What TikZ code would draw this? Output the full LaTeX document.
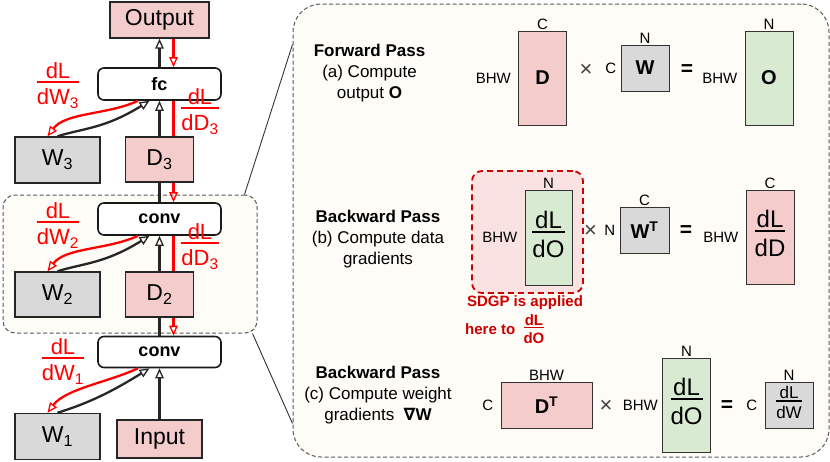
\documentclass[tikz,border=0pt]{standalone}
\usepackage{fontspec}
\setmainfont{Liberation Sans}
\newfontfamily\symfont{DejaVu Sans}
\usepackage{xcolor}
\usetikzlibrary{positioning, arrows.meta, calc}

\definecolor{datapink}{HTML}{F4CCCC}
\definecolor{wgray}{HTML}{D9D9D9}
\definecolor{outgreen}{HTML}{D9EAD3}
\definecolor{panelbg}{HTML}{FEFCF6}
\definecolor{gradred}{HTML}{FF0000}
\definecolor{sdgpred}{HTML}{CC0000}
\definecolor{sdgpbg}{HTML}{FAE2E2}

% stacked fraction: numerator over a rule over denominator
\newcommand{\gfrac}[2]{{\renewcommand{\arraystretch}{0.85}\setlength{\arrayrulewidth}{0.07em}%
  \begin{tabular}{@{}c@{}}#1\\[-0.18em]\hline\rule{0pt}{1.02em}#2\end{tabular}}}

\tikzset{
  region/.style={draw=black!65, dash pattern=on 4pt off 2.5pt, line width=1pt, fill=panelbg, inner sep=0pt},
  databox/.style={draw=black!85, line width=1.4pt, fill=datapink, inner sep=0pt,
    minimum width=68pt, minimum height=45pt, font=\fontsize{23}{27}\selectfont},
  wbox/.style={databox, fill=wgray, minimum width=85pt, minimum height=46pt},
  layer/.style={draw=black!90, line width=1.6pt, rounded corners=6pt, fill=white, inner sep=0pt,
    minimum width=123pt, minimum height=32pt, font=\fontsize{18}{21}\selectfont\bfseries},
  fwd/.style={black!85, line width=2.3pt, -{Triangle[open, length=10pt, width=8.5pt, line width=1.3pt]}},
  fwdline/.style={black!85, line width=2.3pt},
  bwd/.style={gradred, line width=2.3pt, -{Triangle[open, length=10pt, width=8.5pt, line width=1.3pt]}},
  grad/.style={gradred, line width=2.3pt},
  glabel/.style={text=gradred, font=\fontsize{22}{26}\selectfont, inner sep=0pt},
  passtxt/.style={align=center, font=\fontsize{17}{21}\selectfont, inner sep=0pt},
  mat/.style={draw=black!80, line width=1pt, inner sep=0pt, minimum width=48pt},
  matlbl/.style={font=\fontsize{20}{24}\selectfont\bfseries},
  matfrac/.style={font=\fontsize{24}{28}\selectfont},
  dim/.style={font=\fontsize{15}{18}\selectfont, inner sep=1pt},
  op/.style={font=\fontsize{22}{24}\selectfont, text=black!75, inner sep=0pt},
  eq/.style={font=\fontsize{21}{24}\selectfont\bfseries, inner sep=0pt}
}

\begin{document}
\begin{tikzpicture}[x=1pt, y=-1pt]
    \useasboundingbox (0,0) rectangle (830,461);

    % --- zoomed layer and detail panel ---
    \node[region, rounded corners=12pt, minimum width=254pt, minimum height=138pt] (blk) at (130,264) {};
    \node[region, rounded corners=28pt, minimum width=536pt, minimum height=453pt] (panel) at (561,230.5) {};
    \draw[black!80, line width=0.9pt] ([xshift=-13pt]blk.north east) -- ([yshift=-41pt]panel.north west);
    \draw[black!80, line width=0.9pt] ([xshift=-5pt]blk.south east) -- ([yshift=34pt]panel.south west);

    % --- Network stack ---
    \node[databox, minimum width=99pt, minimum height=36pt] (out) at (159.5,20) {Output};
    \node[layer] (fc) at (159.5,84) {fc};
    \node[wbox] (w3) at (57.5,160) {W\textsubscript{3}};
    \node[databox] (d3) at (159.5,159.5) {D\textsubscript{3}};
    \node[layer] (convb) at (159.5,219) {conv};
    \node[wbox, minimum height=45pt] (w2) at (57.5,294.5) {W\textsubscript{2}};
    \node[databox] (d2) at (159.5,294.5) {D\textsubscript{2}};
    \node[layer, minimum height=31pt] (conva) at (159.5,352) {conv};
    \node[wbox] (w1) at (57.5,436.5) {W\textsubscript{1}};
    \node[databox, minimum width=85pt, minimum height=38pt] (inp) at (159.5,439) {Input};

    \draw[fwd] (fc.north) -- (fc.north |- out.south);
    \draw[bwd] ([xshift=14pt]out.south) -- ([xshift=14pt]out.south |- fc.north);
    \foreach \up/\dat/\dn in {fc/d3/convb, convb/d2/conva} {
        \draw[fwd] (\dat.north) -- (\dat.north |- \up.south);
        \draw[grad] ([xshift=14pt]\up.south) -- ([xshift=14pt]\up.south |- \dat.north);
        \draw[fwdline] (\dn.north) -- (\dn.north |- \dat.south);
        \draw[bwd] ([xshift=14pt]\dat.south) -- ([xshift=14pt]\dat.south |- \dn.north);
    }
    \draw[fwd] (inp.north) -- (inp.north |- conva.south);

    % weights in, weight gradients out
    \foreach \l/\w in {fc/w3, convb/w2, conva/w1} {
        \draw[fwd] (\w.north) .. controls +(25,-8) and +(-45,28) .. ([xshift=-10pt]\l.south);
        \draw[bwd] ([xshift=-21.5pt]\l.south) .. controls +(-30,14) and +(18,-24) .. ([xshift=-10pt]\w.north);
    }

    \node[glabel] (lw3) at (58,87) {\gfrac{dL}{dW\textsubscript{3}}};
    \node[glabel] (ld3) at (200,113) {\gfrac{dL}{dD\textsubscript{3}}};
    \node[glabel] (lw2) at (58,227) {\gfrac{dL}{dW\textsubscript{2}}};
    \node[glabel] (ld2) at (200,248) {\gfrac{dL}{dD\textsubscript{3}}};
    \node[glabel] (lw1) at (63,363) {\gfrac{dL}{dW\textsubscript{1}}};

    % --- (a) Forward pass ---
    \node[passtxt] (ta) at (369.5,73) {\textbf{Forward Pass}\\(a) Compute\\output \textbf{O}};
    \node[mat, fill=datapink, minimum height=94pt, matlbl] (da) at (542.5,78) {D};
    \node[mat, fill=wgray, minimum height=46pt, matlbl] (wa) at (645,68) {W};
    \node[mat, fill=outgreen, minimum height=94pt, matlbl] (oa) at (769,78) {O};
    \node[dim, above=0pt of da] {C};
    \node[dim, left=6pt of da] {BHW};
    \node[op] (xa) at (586,70) {×};
    \node[dim, left=3pt of wa] {C};
    \node[dim, above=0pt of wa] {N};
    \node[eq] (ea) at (687,70) {=};
    \node[dim, left=6pt of oa] {BHW};
    \node[dim, above=0pt of oa] {N};

    % --- (b) Backward pass, data gradients ---
    \node[passtxt] (tb) at (378,239) {\textbf{Backward Pass}\\(b) Compute data\\gradients};
    \node[draw=sdgpred, fill=sdgpbg, line width=1.8pt, dash pattern=on 6pt off 4pt, rounded corners=10pt,
        minimum width=111pt, minimum height=122pt] (sdgp) at (527.5,232) {};
    \node[mat, fill=outgreen, minimum width=47pt, minimum height=95pt, matfrac] (gb) at (548.5,237.5) {\gfrac{dL}{dO}};
    \node[mat, fill=wgray, minimum width=49pt, minimum height=46pt, matlbl] (wtb) at (644.5,230) {W\textsuperscript{T}};
    \node[mat, fill=datapink, minimum height=94pt, matfrac] (db) at (770,237) {\gfrac{dL}{dD}};
    \node[dim, above=0pt of gb] {N};
    \node[dim, left=6pt of gb] {BHW};
    \node[op] (xb) at (590.5,231) {×};
    \node[dim, left=3pt of wtb] {N};
    \node[dim, above=0pt of wtb] {C};
    \node[eq] (eb) at (686,231) {=};
    \node[dim, left=6pt of db] {BHW};
    \node[dim, above=0pt of db] {C};
    \node[text=sdgpred, font=\fontsize{15}{18}\selectfont\bfseries, inner sep=0pt] (s1) at (525,303) {SDGP is applied};
    \node[text=sdgpred, font=\fontsize{15}{18}\selectfont\bfseries, inner sep=0pt, anchor=west] (s2) at (465,331)
        {here to~~\gfrac{dL}{dO}};

    % --- (c) Backward pass, weight gradients ---
    \node[passtxt] (tc) at (378,395) {\textbf{Backward Pass}\\(c) Compute weight\\gradients~~{\symfont\bfseries ∇}\textbf{W}};
    \node[mat, fill=datapink, minimum width=91pt, minimum height=46pt, matlbl] (dtc) at (546.5,405) {D\textsuperscript{T}};
    \node[mat, fill=outgreen, minimum height=94pt, matfrac] (gc) at (686.5,405) {\gfrac{dL}{dO}};
    \node[mat, fill=wgray, minimum height=46pt, font=\fontsize{17}{20}\selectfont] (dwc) at (789,405) {\gfrac{dL}{dW}};
    \node[dim, above=0pt of dtc] {BHW};
    \node[dim, left=6pt of dtc] {C};
    \node[op] (xc) at (606,406) {×};
    \node[dim, left=3pt of gc] {BHW};
    \node[dim, above=0pt of gc] {N};
    \node[eq] (ec) at (727,406) {=};
    \node[dim, left=6pt of dwc] {C};
    \node[dim, above=0pt of dwc] {N};
\end{tikzpicture}
\end{document}
